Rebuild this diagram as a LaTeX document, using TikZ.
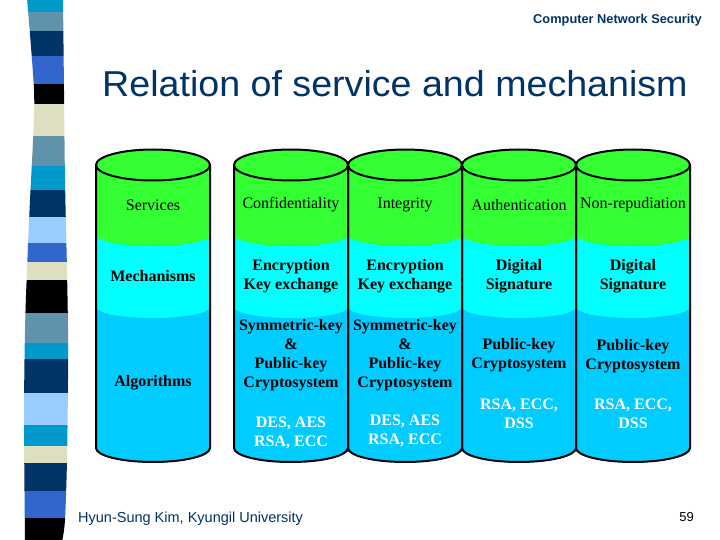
\documentclass[tikz,border=0pt]{standalone}
\usepackage{fontspec}
\setmainfont{Liberation Serif}
\newfontfamily\sansf{Liberation Sans}
\definecolor{greenc}{RGB}{51,255,51}
\definecolor{cyanc}{RGB}{0,255,255}
\definecolor{deepc}{RGB}{0,204,255}
\definecolor{navy}{RGB}{0,51,102}
\definecolor{sbA}{RGB}{0,153,204}
\definecolor{sbB}{RGB}{95,147,171}
\definecolor{sbC}{RGB}{0,51,102}
\definecolor{sbD}{RGB}{51,102,204}
\definecolor{sbE}{RGB}{222,222,192}
\definecolor{sbF}{RGB}{153,204,255}
\definecolor{sbK}{RGB}{0,0,0}
\newcommand\cylfill[1]{%
  \fill[deepc] (#1-57,165) -- (#1-57,448) arc[start angle=180,end angle=360,x radius=57pt,y radius=14pt] -- (#1+57,165) -- cycle;
  \fill[cyanc] (#1-57,165) -- (#1-57,307) arc[start angle=180,end angle=360,x radius=57pt,y radius=11pt] -- (#1+57,165) -- cycle;
  \fill[greenc] (#1-57,165) -- (#1-57,235) arc[start angle=180,end angle=360,x radius=57pt,y radius=11pt] -- (#1+57,165) -- cycle;
}
\newcommand\cylline[1]{%
  \draw[cylstroke] (#1-57,165) -- (#1-57,448) arc[start angle=180,end angle=360,x radius=57pt,y radius=14pt] -- (#1+57,165);
  \draw[cylstroke,fill=greenc] (#1,165) ellipse[x radius=57pt,y radius=15.5pt];
}
\begin{document}
\begin{tikzpicture}[x=1pt,y=-1pt,
  cylstroke/.style={draw=black,line width=2pt,line join=round},
  rowone/.style={font=\fontsize{16}{19}\selectfont,align=center,inner sep=0pt},
  rowtwo/.style={font=\fontsize{16}{19}\selectfont\bfseries,align=center,inner sep=0pt},
  whitetxt/.style={rowtwo,text=white}]
\useasboundingbox (0,0) rectangle (720,540);
\fill[white] (0,0) rectangle (720,540);
% decorative strip
\begin{scope}
\clip plot[smooth] coordinates {(27,-2) (34,90) (33,140) (30,200) (27,270) (25,330) (24,420) (25,542)}
  -- plot[smooth] coordinates {(62,542) (65,520) (67,460) (68,380) (68,330) (67,270) (65,180) (64,90) (63,-2)} -- cycle;
\foreach \a/\b/\c in {-2/12/sbA,12/31/sbB,31/56/sbC,56/84/sbD,84/104/sbK,104/136/sbE,136/166/sbB,166/190/sbA,190/217/sbC,217/243/sbF,243/262/sbD,262/280/sbE,280/313/sbK,313/343/sbB,343/359/sbA,359/393/sbC,393/425/sbF,425/446/sbA,446/463/sbE,463/491/sbC,491/518/sbD,518/542/sbK}
  {\fill[\c] (15,\a-0.3) rectangle (80,\b+0.3);}
\end{scope}
% header and title
\node[anchor=base east,font=\sansf\bfseries\fontsize{12.8}{15}\selectfont,text=navy,inner sep=0pt] (hdr) at (702,24) {Computer Network Security};
\node[anchor=base west,font=\sansf\fontsize{36}{40}\selectfont,text=navy,inner sep=0pt] (title) at (102,97)
  {\scalebox{1.045}[1]{Relation of service and mechanism}};
% cylinders
\cylfill{153}\cylfill{291}\cylfill{405}\cylfill{519}\cylfill{633}
\cylline{153}\cylline{291}\cylline{405}\cylline{519}\cylline{633}
% column 1
\node[rowone] (svc) at (153,205) {Services};
\node[rowtwo] (mech) at (153,276) {Mechanisms};
\node[rowtwo] (alg) at (153,383) {Algorithms};
% column 2
\node[rowone] (conf) at (291,205) {Confidentiality};
\node[rowtwo] (confm) at (291,276.5) {Encryption\\Key exchange};
\node[rowtwo] (confa) at (291,355.5) {Symmetric-key\\\&\\Public-key\\Cryptosystem};
\node[whitetxt] (confx) at (291,432.5) {DES, AES\\RSA, ECC};
% column 3
\node[rowone] (integ) at (405,205) {Integrity};
\node[rowtwo] (integm) at (405,276.5) {Encryption\\Key exchange};
\node[rowtwo] (intega) at (405,355) {Symmetric-key\\\&\\Public-key\\Cryptosystem};
\node[whitetxt] (integx) at (405,430.5) {DES, AES\\RSA, ECC};
% column 4
\node[rowone] (auth) at (519,205) {Authentication};
\node[rowtwo] (authm) at (519,276.5) {Digital\\Signature};
\node[rowtwo] (autha) at (519,355.5) {Public-key\\Cryptosystem};
\node[whitetxt] (authx) at (519,413.5) {RSA, ECC,\\DSS};
% column 5
\node[rowone] (nonr) at (633,205) {Non-repudiation};
\node[rowtwo] (nonrm) at (633,276.5) {Digital\\Signature};
\node[rowtwo] (nonra) at (633,356) {Public-key\\Cryptosystem};
\node[whitetxt] (nonrx) at (633,413.5) {RSA, ECC,\\DSS};
% footer
\node[anchor=base west,font=\sansf\fontsize{14.5}{16}\selectfont,text=navy,inner sep=0pt] (foot) at (78,522) {Hyun-Sung Kim, Kyungil University};
\node[anchor=base east,font=\sansf\fontsize{13}{16}\selectfont,inner sep=0pt] (pg) at (694,521) {59};
\end{tikzpicture}
\end{document}
